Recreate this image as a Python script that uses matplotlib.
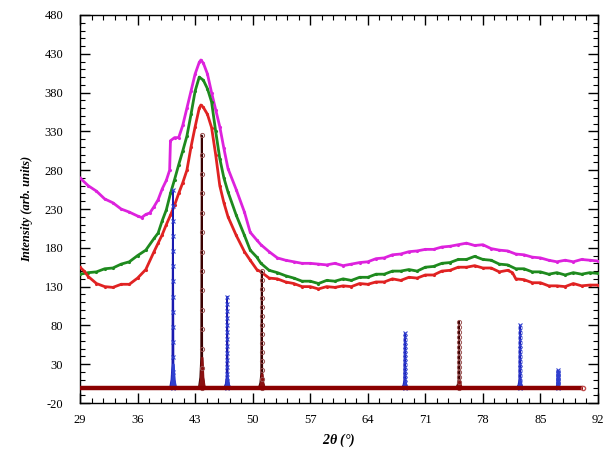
import numpy as np
import matplotlib
matplotlib.use("Agg")
import matplotlib.pyplot as plt
from matplotlib.ticker import AutoMinorLocator

# ---- data ----
mag_x = [29, 30, 31, 32, 33, 34, 35, 36, 36.5, 37, 37.5, 38, 38.5, 39, 39.5, 39.9, 40.0, 40.5, 41, 41.5, 42,
         42.5, 43, 43.5, 43.7, 44, 44.5, 45, 45.5, 46, 46.5, 47, 48, 49, 49.7, 50.5, 51, 52, 53, 54, 55, 56,
         57, 58, 59, 60, 61, 62, 63, 64, 65, 66, 67, 68, 69, 70, 71, 72, 73, 74, 75, 76, 77, 78, 79, 80,
         81, 82, 83, 84, 85, 86, 87, 88, 89, 90, 91, 92]
mag_y = [270, 260, 253, 243, 238, 230, 226, 221, 219, 223, 225, 233, 242, 256, 267, 280, 318, 322, 322, 338, 360,
         382, 404, 419, 422, 418, 404, 380, 358, 336, 308, 282, 255, 226, 200, 190, 184, 175, 167, 164, 162, 160,
         160, 159, 158, 160, 157, 159, 161, 162, 166, 167, 171, 172, 175, 176, 178, 178, 181, 182, 184, 186, 183, 184, 179, 177,
         176, 172, 171, 168, 167, 164, 162, 164, 162, 165, 164, 163]

grn_x = [29, 30, 31, 32, 33, 34, 35, 36, 37, 38, 38.5, 39, 39.5, 40, 40.5, 41, 41.5, 42, 42.5, 43, 43.5,
         44, 44.5, 45, 45.5, 46, 46.5, 47, 48, 49, 49.7, 50.5, 51, 52, 53, 54, 55, 56, 57, 58, 59, 60, 61,
         62, 63, 64, 65, 66, 67, 68, 69, 70, 71, 72, 73, 74, 75, 76, 77, 78, 79, 80, 81, 82, 83, 84, 85,
         86, 87, 88, 89, 90, 91, 92]
grn_y = [146, 148, 149, 153, 154, 159, 162, 170, 177, 192, 199, 215, 229, 250, 268, 287, 305, 324, 352, 382, 400,
         396, 385, 368, 330, 295, 270, 252, 222, 196, 177, 168, 160, 151, 148, 144, 141, 137, 137, 134, 138, 137, 140,
         138, 142, 142, 146, 146, 150, 150, 152, 150, 155, 156, 160, 161, 165, 165, 169, 165, 164, 159, 158, 153, 153, 149, 149,
         146, 148, 145, 148, 146, 148, 147]

red_x = [29, 29.5, 30, 31, 32, 33, 34, 35, 36, 37, 38, 38.5, 39, 39.5, 40, 40.5, 41, 41.5, 42, 42.5, 43,
         43.5, 43.7, 44, 44.5, 45, 45.5, 46, 46.5, 47, 48, 49, 49.7, 50.5, 51, 52, 53, 54, 55, 56, 57, 58,
         59, 60, 61, 62, 63, 64, 65, 66, 67, 68, 69, 70, 71, 72, 73, 74, 75, 76, 77, 78, 79, 80, 81, 81.6,
         82, 83, 84, 85, 86, 87, 88, 89, 90, 91, 92]
red_y = [155, 150, 143, 134, 130, 129, 133, 133, 141, 152, 175, 186, 197, 210, 222, 235, 250, 264, 280, 310, 336,
         360, 364, 361, 352, 335, 300, 260, 238, 220, 196, 175, 164, 152, 149, 141, 140, 136, 134, 130, 130, 127,
         130, 129, 131, 130, 134, 133, 136, 136, 140, 138, 142, 141, 145, 145, 150, 151, 155, 155, 157, 154, 154, 149, 151, 148,
         140, 139, 135, 135, 131, 131, 130, 134, 131, 132, 132]

blue_pos = [40.3, 46.9, 68.5, 82.5, 87.1]
blue_h = [254, 117, 70, 80, 22]
brown_pos = [43.8, 51.1, 75.1]
brown_h = [325, 150, 85]

base_x = [29, 90.2]
base_y = [0, 0]

x_ticks = [29, 36, 43, 50, 57, 64, 71, 78, 85, 92]
y_ticks = [-20, 30, 80, 130, 180, 230, 280, 330, 380, 430, 480]

# ---- figure ----
plt.rcParams['font.family'] = ['Liberation Serif', 'DejaVu Serif']
plt.rcParams['mathtext.fontset'] = 'custom'
plt.rcParams['mathtext.it'] = 'Liberation Serif:italic:bold'
plt.rcParams['axes.unicode_minus'] = False
fig = plt.figure(figsize=(6.03, 4.49), dpi=100)
ax = fig.add_axes([0.1327, 0.1024, 0.8590, 0.8642])

ax.plot(mag_x, mag_y, color='#dd22dd', lw=2.0, marker='.', ms=2.5, zorder=3)
ax.plot(grn_x, grn_y, color='#1e8a1e', lw=2.0, marker='.', ms=2.5, zorder=3)
ax.plot(red_x, red_y, color='#e02222', lw=2.0, marker='.', ms=2.5, zorder=3)

prof_dx = np.array([-0.35, -0.18, -0.07, 0.0, 0.07, 0.18, 0.35])
prof_f = np.array([0.0, 0.04, 0.12, 1.0, 0.12, 0.04, 0.0])
levels = np.linspace(0, 1, 14)

for p, h in zip(blue_pos, blue_h):
    ax.plot(p + prof_dx, h * prof_f, color='#1a1ab0', lw=1.2, zorder=4)
    ax.plot(np.full(levels.size, p), h * levels, ls='none', marker='x', ms=2.5,
            mew=0.8, color='#3040d0', zorder=5)
    ax.fill_between(p + prof_dx, 0, h * np.minimum(prof_f, 0.12), color='#3040d0', zorder=4)

for p, h in zip(brown_pos, brown_h):
    ax.plot(p + prof_dx, h * prof_f, color='#3a0000', lw=1.2, zorder=4)
    ax.plot(np.full(levels.size, p), h * levels, ls='none', marker='o', ms=3,
            mfc='none', mec='#9a5050', mew=0.7, zorder=5)
    ax.fill_between(p + prof_dx, 0, h * np.minimum(prof_f, 0.12), color='#8b1010', zorder=4)

ax.plot(base_x, base_y, color='#8b0000', lw=3.2, zorder=6, solid_capstyle='butt')
ax.plot([base_x[-1]], [0], marker='o', ms=3, mfc='none', mec='#c05050', zorder=6)

ax.set_xlim(29, 92)
ax.set_ylim(-20, 480)
ax.set_xticks(x_ticks)
ax.set_yticks(y_ticks)
ax.xaxis.set_minor_locator(AutoMinorLocator(5))
ax.yaxis.set_minor_locator(AutoMinorLocator(5))
ax.tick_params(which='both', direction='in', top=True, right=True)
ax.tick_params(which='major', length=7, width=1.0, labelsize=9)
ax.tick_params(which='minor', length=3.5, width=0.8)
ax.tick_params(axis='y', pad=12)
ax.tick_params(axis='x', pad=8)
for s in ax.spines.values():
    s.set_linewidth(1.0)

ax.set_xlabel(r'2$\theta$ (°)', fontsize=10, fontweight='bold', style='italic', labelpad=4)
ax.set_ylabel('Intensity (arb. units)', fontsize=9, fontweight='bold', style='italic', labelpad=8)

fig.savefig('out.png', dpi=100)
